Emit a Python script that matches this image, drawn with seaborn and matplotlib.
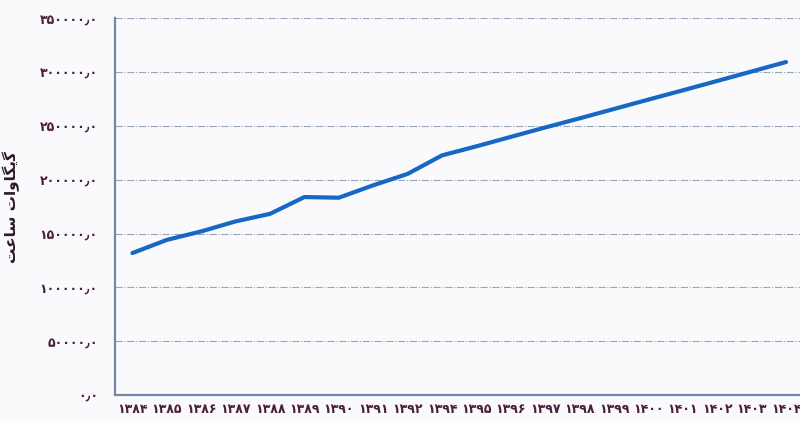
import matplotlib.pyplot as plt
import numpy as np
import pandas as pd
import seaborn as sns
from matplotlib.ticker import FixedLocator, FuncFormatter

# years as printed on the chart (the original skips 1393)
years = ['۱۳۸۴', '۱۳۸۵', '۱۳۸۶', '۱۳۸۷', '۱۳۸۸', '۱۳۸۹', '۱۳۹۰', '۱۳۹۱', '۱۳۹۲', '۱۳۹۴',
         '۱۳۹۵', '۱۳۹۶', '۱۳۹۷', '۱۳۹۸', '۱۳۹۹', '۱۴۰۰', '۱۴۰۱', '۱۴۰۲', '۱۴۰۳', '۱۴۰۴']
energy_gwh = [131900, 144100, 152000, 161300, 168300, 183900, 183300, 194800, 205400, 222600,
              231000, 239800, 248500, 257000, 265700, 274400, 283000, 291700, 300500, 309300]
y_ticks = [0, 50000, 100000, 150000, 200000, 250000, 300000, 350000]

# "گیگاوات ساعت" in shaped presentation forms, visual (LTR) order
y_label = '\ufe96\ufecb\ufe8e\ufeb3 \ufe95\ufe8d\ufeed\ufe8e\ufb95\ufbfe\ufb94'

PERSIAN = str.maketrans('0123456789.', '۰۱۲۳۴۵۶۷۸۹٫')
TEXT_COLOR = '#4a1e3c'
LINE_COLOR = '#1767c4'
AXIS_COLOR = '#7089ab'


def persian_tick(val, pos):
  if val == 0:
    return '۰٫۰'
  return '{:.1f}'.format(val).translate(PERSIAN)


sns.set_theme(style='white')
plt.rcParams['font.family'] = ['DejaVu Sans']

df = pd.DataFrame({'year': years, 'energy': energy_gwh})

fig = plt.figure(figsize=(8, 4.23), dpi=100, facecolor='#fafafc')
ax = fig.add_axes([0.144, 0.066, 0.86, 0.891])
ax.set_facecolor('#fafafc')

sns.lineplot(data=df, x='year', y='energy', sort=False, ax=ax,
             color=LINE_COLOR, linewidth=3, solid_capstyle='round')

ax.set_xlim(-0.5, len(years) - 0.5)
ax.set_ylim(0, 350000)
ax.set_yticks(y_ticks)
ax.yaxis.set_major_formatter(FuncFormatter(persian_tick))
ax.yaxis.grid(True, linestyle='-.', linewidth=0.8, color='#98a6ba')
ax.xaxis.grid(False)

for side in ['top', 'right']:
  ax.spines[side].set_visible(False)
for side in ['left', 'bottom']:
  ax.spines[side].set_color(AXIS_COLOR)
  ax.spines[side].set_linewidth(1.6)

ax.tick_params(axis='y', which='major', direction='inout', length=7, width=1,
               color=AXIS_COLOR, labelsize=9, labelcolor=TEXT_COLOR, pad=9)
ax.tick_params(axis='x', which='major', length=0, labelsize=9,
               labelcolor=TEXT_COLOR, pad=6)
ax.xaxis.set_minor_locator(FixedLocator(np.arange(0.5, len(years) - 0.5, 1)))
ax.tick_params(axis='x', which='minor', direction='out', length=4, width=1,
               color=AXIS_COLOR)
for lbl in ax.get_xticklabels() + ax.get_yticklabels():
  lbl.set_fontweight('bold')

ax.set_xlabel('')
ax.set_ylabel(y_label, fontsize=11, fontweight='bold', color='#2a1a2a', labelpad=14)

fig.savefig('out.png', dpi=100, facecolor=fig.get_facecolor())
